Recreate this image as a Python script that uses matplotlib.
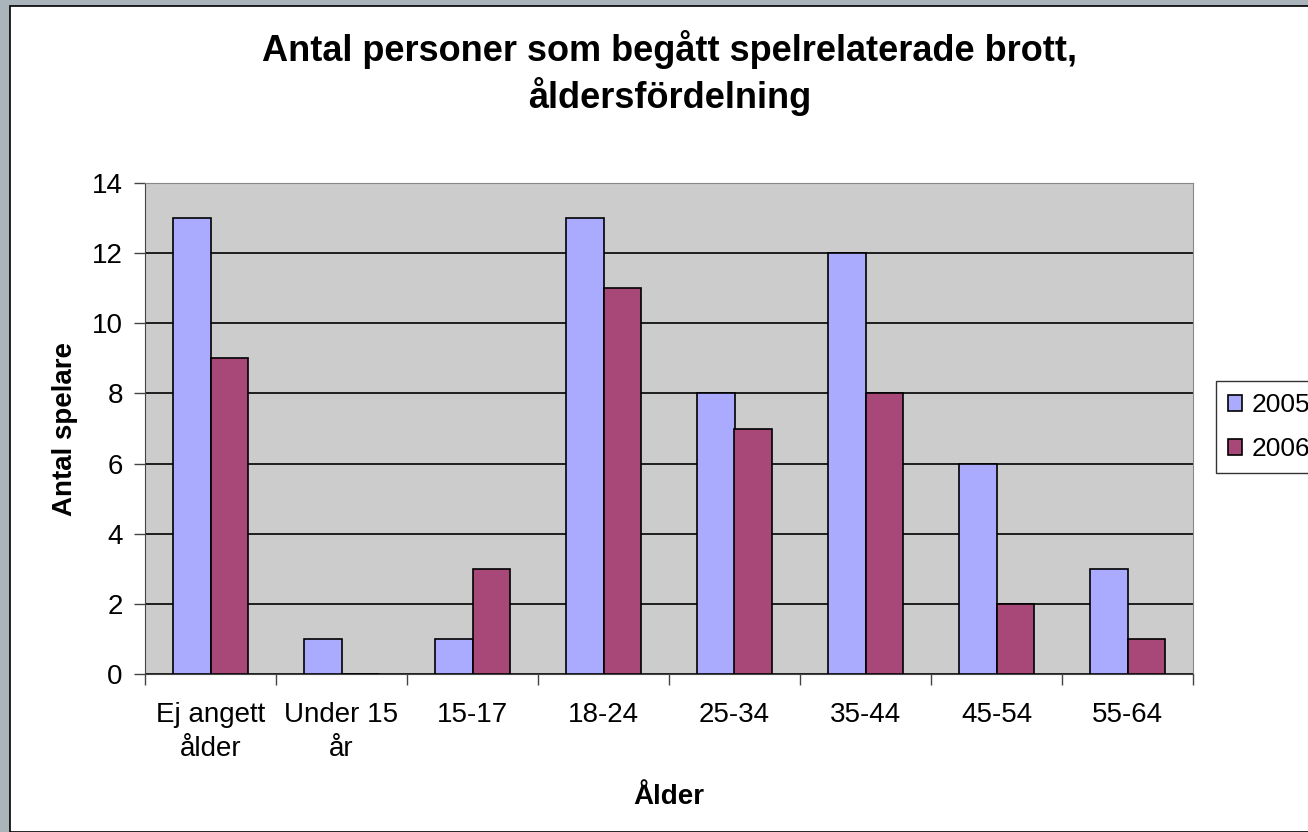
import matplotlib
matplotlib.use("Agg")
import matplotlib.pyplot as plt
import numpy as np
from matplotlib.patches import Rectangle

plt.rcParams["font.family"] = ["Liberation Sans", "DejaVu Sans"]

categories = ["Ej angett\nålder", "Under 15\når", "15-17", "18-24", "25-34", "35-44", "45-54", "55-64"]
series_2005 = [13, 1, 1, 13, 8, 12, 6, 3]
series_2006 = [9, 0, 3, 11, 7, 8, 2, 1]
years = ["2005", "2006"]

fig = plt.figure(figsize=(13.08, 8.32), dpi=100)

# grey window frame on left/top, white chart area with thin black border
fig.patches.append(Rectangle((0, 0), 1, 1, transform=fig.transFigure, color="#a9b5bb", zorder=-10))
fig.patches.append(Rectangle((10 / 1308, 0), 1, 826 / 832, transform=fig.transFigure,
                             facecolor="white", edgecolor="black", linewidth=1.2, zorder=-9))

ax = fig.add_axes([145 / 1308, 158 / 832, 1048 / 1308, 491 / 832])
ax.set_facecolor("#cccccc")

x = np.arange(len(categories))
w = 0.29
ax.bar(x - w / 2, series_2005, w, color="#aaaaff", edgecolor="black", linewidth=1.2, label=years[0], zorder=3)
ax.bar(x + w / 2, series_2006, w, color="#a84878", edgecolor="black", linewidth=1.2, label=years[1], zorder=3)

ax.set_xlim(-0.5, len(categories) - 0.5)
ax.set_ylim(0, 14)
ax.set_yticks(range(0, 15, 2))
ax.yaxis.grid(True, color="black", linewidth=1.2, zorder=1)
ax.set_axisbelow(True)

ax.set_xticks(np.arange(len(categories) + 1) - 0.5)
ax.set_xticklabels([])
ax.set_xticks(x, minor=True)
ax.set_xticklabels(categories, minor=True, fontsize=20, linespacing=1.4)
ax.tick_params(axis="x", which="minor", length=0, pad=20)
ax.tick_params(axis="x", which="major", length=8, width=1, color="#444444")
ax.tick_params(axis="y", length=8, width=1, color="#444444", labelsize=20, pad=8)

for s in ["top", "right"]:
    ax.spines[s].set_color("#888888")
ax.spines["left"].set_color("#444444")
ax.spines["bottom"].set_color("#444444")

ax.set_xlabel("Ålder", fontsize=20, fontweight="bold", labelpad=16)
ax.set_ylabel("Antal spelare", fontsize=20, fontweight="bold", labelpad=10)

fig.text(670 / 1308, 1 - 73 / 832, "Antal personer som begått spelrelaterade brott,\nåldersfördelning",
         ha="center", va="center", fontsize=26, fontweight="bold", linespacing=1.25)

leg = fig.legend(loc="center left", bbox_to_anchor=(1216 / 1308, 1 - 427 / 832), fontsize=19,
                 frameon=True, fancybox=False, edgecolor="black", handlelength=0.55, handleheight=0.55,
                 handletextpad=0.35, borderpad=0.45, labelspacing=0.75, borderaxespad=0)
leg.get_frame().set_linewidth(1.0)

fig.savefig("out.png", dpi=100)
